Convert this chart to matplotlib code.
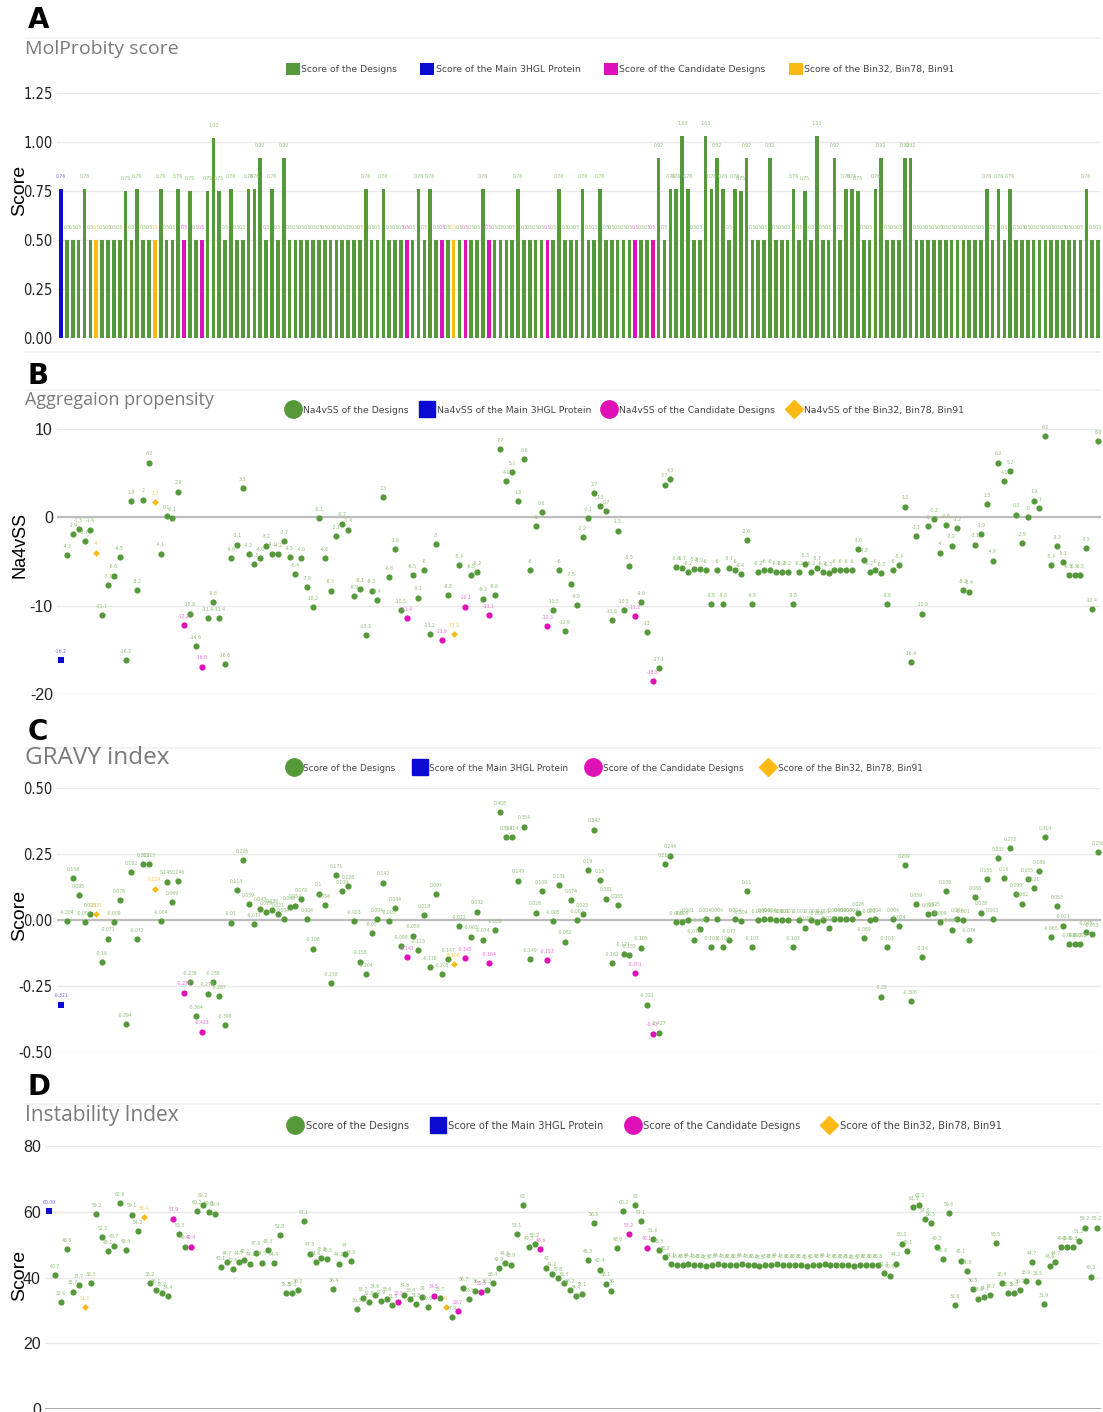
import matplotlib
matplotlib.use('agg')
import matplotlib.pyplot as plt
from matplotlib.lines import Line2D
from matplotlib.patches import Patch

plt.rcParams['font.family'] = ['Liberation Sans', 'DejaVu Sans']

# colours of the four groups
GREEN = '#55993a'
BLUE = '#0a0ad2'
MAGENTA = '#e010b8'
ORANGE = '#ffb915'
LABEL_GREEN = '#8dbf72'
LABEL_BLUE = '#6a6af2'
LABEL_MAGENTA = '#f06ad6'
LABEL_ORANGE = '#ffc54a'

# design indices per group (index 0 is the main 3HGL protein)
main_idx = [0]
bin_idx = [6, 16, 67]
cand_idx = [21, 24, 59, 65, 69, 73, 83, 98, 101]
cand_idx_gravy = [21, 24, 59, 69, 73, 83, 98, 101]

molprobity = [
    0.76, 0.5, 0.5, 0.5, 0.76, 0.5, 0.5, 0.5, 0.5, 0.5,
    0.5, 0.75, 0.5, 0.76, 0.5, 0.5, 0.5, 0.76, 0.5, 0.5,
    0.76, 0.5, 0.75, 0.5, 0.5, 0.75, 1.02, 0.75, 0.5, 0.76,
    0.5, 0.5, 0.76, 0.76, 0.92, 0.5, 0.76, 0.5, 0.92, 0.5,
    0.5, 0.5, 0.5, 0.5, 0.5, 0.5, 0.5, 0.5, 0.5, 0.5,
    0.5, 0.5, 0.76, 0.5, 0.5, 0.76, 0.5, 0.5, 0.5, 0.5,
    0.5, 0.76, 0.5, 0.76, 0.5, 0.5, 0.5, 0.5, 0.5, 0.5,
    0.5, 0.5, 0.76, 0.5, 0.5, 0.5, 0.5, 0.5, 0.76, 0.5,
    0.5, 0.5, 0.5, 0.5, 0.5, 0.76, 0.5, 0.5, 0.5, 0.76,
    0.5, 0.5, 0.76, 0.5, 0.5, 0.5, 0.5, 0.5, 0.5, 0.5,
    0.5, 0.5, 0.92, 0.5, 0.76, 0.76, 1.03, 0.76, 0.5, 0.5,
    1.03, 0.76, 0.92, 0.76, 0.5, 0.76, 0.75, 0.92, 0.5, 0.5,
    0.5, 0.92, 0.5, 0.5, 0.5, 0.76, 0.5, 0.75, 0.5, 1.03,
    0.5, 0.5, 0.92, 0.5, 0.76, 0.76, 0.75, 0.5, 0.5, 0.76,
    0.92, 0.5, 0.5, 0.5, 0.92, 0.92, 0.5, 0.5, 0.5, 0.5,
    0.5, 0.5, 0.5, 0.5, 0.5, 0.5, 0.5, 0.5, 0.76, 0.5,
    0.76, 0.5, 0.76, 0.5, 0.5, 0.5, 0.5, 0.5, 0.5, 0.5,
    0.5, 0.5, 0.5, 0.5, 0.5, 0.76, 0.5, 0.5,
]

na4vss = [
    -16.2, -4.3, -1.9, -1.3, -2.7, -1.4, -4, -11.1, -7.7, -6.6,
    -4.5, -16.2, 1.8, -8.2, 2, 6.2, 1.7, -4.1, 0.1, -0.1,
    2.9, -12.2, -10.9, -14.6, -16.9, -11.4, -9.6, -11.4, -16.6, -4.6,
    -3.1, 3.3, -4.2, -5.3, -4.6, -3.2, -4.1, -4.2, -2.7, -4.5,
    -6.4, -4.6, -7.9, -10.2, -0.1, -4.6, -8.3, -2.1, -0.7, -1.4,
    -8.9, -8.1, -13.3, -8.3, -9.4, 2.3, -6.8, -3.6, -10.5, -11.4,
    -6.5, -9.1, -6, -13.2, -3, -13.9, -8.8, -13.2, -5.4, -10.1,
    -6.5, -6.2, -9.2, -11.1, -8.8, 7.7, 4.1, 5.1, 1.8, 6.6,
    -6, -1, 0.6, -12.3, -10.5, -6, -12.9, -7.5, -9.9, -2.2,
    -0.1, 2.7, 1.3, 0.7, -11.6, -1.5, -10.5, -5.5, -11.2, -9.6,
    -13, -18.5, -17.1, 3.7, 4.3, -5.6, -5.7, -6.2, -5.8, -5.9,
    -6, -9.8, -6, -9.8, -5.7, -6, -6.4, -2.6, -9.8, -6.2,
    -6, -6, -6.2, -6.2, -6.2, -9.8, -6.2, -5.3, -6.2, -5.7,
    -6.2, -6.3, -6, -6, -6, -6, -3.6, -4.8, -6.2, -6,
    -6.3, -9.8, -6, -5.4, 1.2, -16.4, -2.1, -10.9, -1, -0.2,
    -4, -0.9, -3.2, -1.2, -8.2, -8.4, -3.1, -1.9, 1.5, -4.9,
    6.2, 4.1, 5.2, 0.3, -2.9, 0, 1.9, 1, 9.2, -5.4,
    -3.3, -5.1, -6.5, -6.5, -6.5, -3.5, -10.4, 8.6,
]

gravy = [
    -0.321, -0.004, 0.158, 0.095, -0.008, 0.023, 0.021, -0.16, -0.071, -0.009,
    0.076, -0.394, 0.182, -0.072, 0.213, 0.213, 0.119, -0.004, 0.145, 0.069,
    0.146, -0.275, -0.236, -0.364, -0.423, -0.279, -0.236, -0.287, -0.399, -0.01,
    0.114, 0.226, 0.059, -0.017, 0.043, 0.029, 0.038, 0.021, 0.004, 0.048,
    0.054, 0.079, 0.004, -0.108, 0.1, 0.056, -0.238, 0.171, 0.109, 0.128,
    -0.003, -0.158, -0.204, -0.05, 0.004, 0.142, -0.003, 0.044, -0.099, -0.141,
    -0.059, -0.113, 0.018, -0.178, 0.097, -0.205, -0.147, -0.168, -0.022, -0.145,
    -0.063, 0.032, -0.074, -0.164, -0.038, 0.408, 0.314, 0.314, 0.149, 0.354,
    -0.149, 0.028, 0.109, -0.152, -0.005, 0.131, -0.082, 0.074, -0.001, 0.023,
    0.19, 0.342, 0.15, 0.081, -0.162, 0.055, -0.127, -0.132, -0.201, -0.105,
    -0.321, -0.43, -0.427, 0.213, 0.244, -0.009, -0.009, 0.001, -0.077, -0.035,
    0.004, -0.103, 0.004, -0.103, -0.077, 0.004, -0.004, 0.11, -0.103, -0.001,
    0.004, 0.004, -0.001, -0.001, -0.001, -0.103, -0.001, -0.029, -0.001, -0.009,
    -0.001, -0.029, 0.004, 0.004, 0.004, 0.004, 0.026, -0.069, -0.001, 0.004,
    -0.29, -0.103, 0.004, -0.024, 0.209, -0.306, 0.059, -0.14, 0.023, 0.025,
    -0.009, 0.108, -0.036, 0.004, -0.001, -0.074, 0.086, 0.028, 0.155, 0.003,
    0.235, 0.16, 0.273, 0.099, 0.062, 0.155, 0.121, 0.186, 0.314, -0.065,
    0.053, -0.021, -0.092, -0.092, -0.092, -0.045, -0.053, 0.258,
]

instability = [
    60.09, 40.7, 32.6, 48.6, 35.7, 37.7, 31.1, 38.3, 59.2, 52.3,
    48.1, 49.7, 62.6, 48.4, 59.1, 54.2, 58.4, 38.2, 36.1, 35.2,
    34.4, 57.9, 53.3, 49.4, 49.4, 60.2, 62.2, 59.8, 59.4, 43.1,
    44.7, 42.6, 44.7, 45.2, 44.2, 47.6, 44.5, 48.3, 44.4, 52.8,
    35.3, 35.3, 36.2, 57.1, 47.3, 44.6, 45.8, 45.5, 36.4, 44.2,
    47, 44.9, 30.3, 33.7, 32.6, 34.6, 32.9, 33.6, 31.5, 32.5,
    34.8, 33.4, 31.8, 34, 30.9, 34.5, 33.7, 31, 27.9, 29.7,
    36.7, 33.5, 36, 35.5, 36.2, 38.4, 42.9, 44.5, 43.9, 53.1,
    62, 49.3, 50.2, 48.6, 43, 41.2, 39.8, 38.3, 36.2, 34.4,
    35.1, 45.3, 56.5, 42.4, 38.1, 36, 48.9, 60.2, 53.2, 62,
    57.1, 49.1, 51.6, 48.3, 46.2, 44.1, 43.8, 43.8, 44.1, 43.8,
    43.8, 43.5, 43.8, 44.1, 43.8, 43.8, 43.8, 44.1, 43.8, 43.8,
    43.5, 43.8, 43.8, 44.1, 43.8, 43.8, 43.8, 43.8, 43.5, 43.8,
    43.8, 44.1, 43.8, 43.8, 43.8, 43.8, 43.5, 43.8, 43.8, 43.8,
    43.8, 41.4, 40.6, 44.2, 50.3, 48.1, 61.5, 62.2, 57.8, 56.5,
    49.3, 45.6, 59.6, 31.6, 45.1, 41.9, 36.5, 33.6, 34.1, 34.7,
    50.5, 38.4, 35.3, 35.3, 36.2, 38.9, 44.7, 38.5, 31.9, 43.6,
    44.7, 49.3, 49.3, 49.3, 51.2, 55.2, 40.3, 55.2,
]

N = len(molprobity)
W, H = 1103, 1412

fig = plt.figure(figsize=(W / 100, H / 100), dpi=100)


def add_axes(left, top, right, bottom):
    # pixel box -> figure fraction
    return fig.add_axes([left / W, 1 - bottom / H, (right - left) / W, (bottom - top) / H])


def group_of(i, cands):
    if i in main_idx:
        return 'main'
    if i in bin_idx:
        return 'bin'
    if i in cands:
        return 'cand'
    return 'design'


COLORS = {'design': GREEN, 'main': BLUE, 'cand': MAGENTA, 'bin': ORANGE}
LABEL_COLORS = {'design': LABEL_GREEN, 'main': LABEL_BLUE, 'cand': LABEL_MAGENTA, 'bin': LABEL_ORANGE}
MARKERS = {'design': 'o', 'main': 's', 'cand': 'o', 'bin': 'D'}
SIZES = {'design': 20, 'main': 14, 'cand': 20, 'bin': 12}


def style_axes(ax, ylim, ticks, ticklabels, narrow, xlim=(-0.7, N - 0.5)):
    ax.set_xlim(*xlim)
    ax.set_ylim(*ylim)
    ax.set_xticks([])
    ax.set_yticks(ticks)
    if narrow:
        ax.set_yticklabels(ticklabels, family='DejaVu Sans', fontstretch='condensed',
                           fontsize=10.5, color='#222222')
    else:
        ax.set_yticklabels(ticklabels, family='Liberation Sans', fontsize=11.5, color='#222222')
    ax.tick_params(axis='y', length=0, pad=3)
    for s in ax.spines.values():
        s.set_visible(False)
    ax.grid(axis='y', color='#e9e9e9', lw=1.0)
    ax.set_axisbelow(True)
    ax.patch.set_alpha(0)


def panel_header(letter, title, title_size, y_letter, y_title, y_rule):
    fig.text(28 / W, 1 - y_letter / H, letter, fontsize=20, fontweight='bold',
             family='DejaVu Sans', va='center', ha='left')
    fig.text(25 / W, 1 - y_title / H, title, fontsize=title_size, color='#7a7a7a',
             family='Open Sans', va='center', ha='left')
    fig.add_artist(Line2D([26 / W, 1100 / W], [1 - y_rule / H] * 2, color='#f0f0f0', lw=1.2))


def ylabel(text, y, size=14):
    fig.text(20 / W, 1 - y / H, text, rotation=90, fontsize=size, va='center', ha='center',
             family='Liberation Sans')


def value_labels(ax, xs, ys, cands, offset):
    for i, v in zip(xs, ys):
        g = group_of(i, cands)
        ax.annotate(f'{v:g}', (i, v), xytext=(0, offset), textcoords='offset points',
                    ha='center', va='bottom', fontsize=3.7, color=LABEL_COLORS[g],
                    family='DejaVu Sans', fontstretch='condensed')


def scatter_panel(ax, values, cands):
    xs = list(range(N))
    for g in ['design', 'cand', 'bin', 'main']:
        px = [i for i in xs if group_of(i, cands) == g]
        py = [values[i] for i in px]
        ax.scatter(px, py, s=SIZES[g], marker=MARKERS[g], color=COLORS[g], lw=0, zorder=3)


def legend(labels, y, x_center, fontsize, square=False, colspace=2.0):
    if square:
        handles = [Patch(facecolor=c, edgecolor='none') for c in [GREEN, BLUE, MAGENTA, ORANGE]]
        hl, hh = 1.5, 1.5
    else:
        handles = [
            Line2D([], [], marker='o', ls='', color=GREEN, markersize=12.5),
            Line2D([], [], marker='s', ls='', color=BLUE, markersize=11),
            Line2D([], [], marker='o', ls='', color=MAGENTA, markersize=12.5),
            Line2D([], [], marker='D', ls='', color=ORANGE, markersize=9),
        ]
        hl, hh = 1.8, 1.2
    fig.legend(handles, labels, loc='center', bbox_to_anchor=(x_center / W, 1 - y / H), ncol=4,
               frameon=False, handlelength=hl, handleheight=hh, handletextpad=0.15,
               columnspacing=colspace, borderpad=0, borderaxespad=0,
               prop={'family': 'DejaVu Sans', 'size': fontsize}, labelcolor='#444444')


# ---- A: MolProbity score (bars)
panel_header('A', 'MolProbity score', 14, 20, 49, 38)
fig.add_artist(Line2D([26 / W, 1100 / W], [1 - 352 / H] * 2, color='#f0f0f0', lw=1.2))
axA = add_axes(57, 93, 1101, 338)
style_axes(axA, (0, 1.25), [0, 0.25, 0.5, 0.75, 1.0, 1.25],
           ['0.00', '0.25', '0.50', '0.75', '1.00', '1.25'], narrow=True)
bar_colors = [COLORS[group_of(i, cand_idx)] for i in range(N)]
axA.bar(range(N), molprobity, width=0.62, color=bar_colors, zorder=3)
value_labels(axA, range(N), molprobity, cand_idx, 7)
ylabel('Score', 190)
legend(['Score of the Designs', 'Score of the Main 3HGL Protein',
        'Score of the Candidate Designs', 'Score of the Bin32, Bin78, Bin91'],
       69, 620, 6.7, square=True, colspace=2.5)

# ---- B: aggregation propensity
panel_header('B', 'Aggregaion propensity', 13, 376, 400, 390)
axB = add_axes(57, 429, 1101, 694)
style_axes(axB, (-20, 10), [-20, -10, 0, 10], ['-20', '-10', '0', '10'], narrow=False)
axB.axhline(0, color='#bdbdbd', lw=1.6, zorder=1)
scatter_panel(axB, na4vss, cand_idx)
value_labels(axB, range(N), na4vss, cand_idx, 4.5)
ylabel('Na4vSS', 545, 13)
legend(['Na4vSS of the Designs', 'Na4vSS of the Main 3HGL Protein',
        'Na4vSS of the Candidate Designs', 'Na4vSS of the Bin32, Bin78, Bin91'],
       410, 624, 6.7, colspace=1.1)

# ---- C: GRAVY index
panel_header('C', 'GRAVY index', 17.5, 732, 758, 748)
axC = add_axes(57, 788, 1101, 1052)
style_axes(axC, (-0.5, 0.5), [-0.5, -0.25, 0, 0.25, 0.5],
           ['-0.50', '-0.25', '0.00', '0.25', '0.50'], narrow=True)
axC.axhline(0, color='#bdbdbd', lw=1.6, zorder=1)
scatter_panel(axC, gravy, cand_idx_gravy)
value_labels(axC, range(N), gravy, cand_idx_gravy, 4.5)
ylabel('Score', 915)
legend(['Score of the Designs', 'Score of the Main 3HGL Protein',
        'Score of the Candidate Designs', 'Score of the Bin32, Bin78, Bin91'],
       768, 604, 6.4, colspace=1.9)

# ---- D: instability index
panel_header('D', 'Instability Index', 15, 1087, 1115, 1104)
axD = add_axes(45, 1146, 1101, 1409)
style_axes(axD, (0, 80), [0, 20, 40, 60, 80], ['0', '20', '40', '60', '80'], narrow=False,
           xlim=(-0.7, N - 0.3))
axD.axhline(0, color='#9a9a9a', lw=1.2, zorder=1)
scatter_panel(axD, instability, cand_idx)
value_labels(axD, range(N), instability, cand_idx, 4.5)
ylabel('Score', 1275)
legend(['Score of the Designs', 'Score of the Main 3HGL Protein',
        'Score of the Candidate Designs', 'Score of the Bin32, Bin78, Bin91'],
       1126, 644, 7.2, colspace=2.0)

fig.savefig('out.png', dpi=100)
